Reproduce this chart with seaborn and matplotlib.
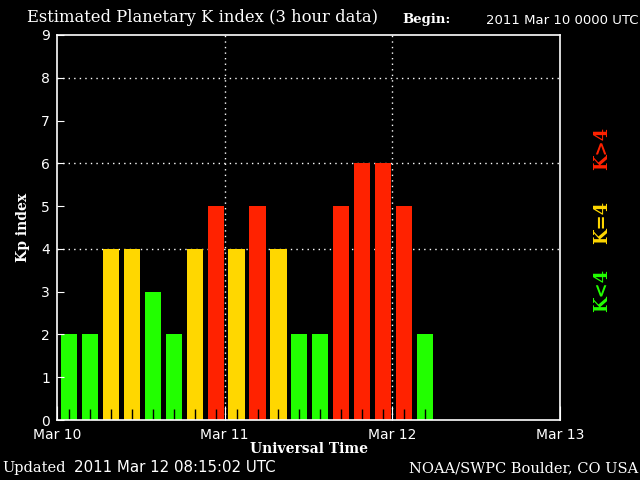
import seaborn as sns
from matplotlib import pyplot as plt
import numpy as np
import pandas as pd

# 3-hour Kp values starting 2011 Mar 10 0000 UTC
kp = [2, 2, 4, 4, 3, 2, 4, 5,
      4, 5, 4, 2, 2, 5, 6, 6,
      5, 2]
day_labels = ['Mar 10', 'Mar 11', 'Mar 12', 'Mar 13']

hours = np.arange(len(kp)) * 3 + 1.7
level = ['lo' if k < 4 else ('eq' if k == 4 else 'hi') for k in kp]
data = pd.DataFrame({'hour': hours, 'kp': kp, 'level': level})
colors = {'lo': '#22ff00', 'eq': '#ffd700', 'hi': '#ff2200'}

sns.set_style('dark')
plt.rcParams['font.family'] = ['DejaVu Sans']

fig = plt.figure(figsize=(6.4, 4.8), dpi=100, facecolor='black')
ax = fig.add_axes([57/640, 1-420/480, 503/640, 385/480])
ax.set_facecolor('black')

sns.barplot(data=data, x='hour', y='kp', hue='level', palette=colors,
            native_scale=True, dodge=False, width=0.77, legend=False,
            saturation=1, ax=ax, linewidth=0, edgecolor='none')

ax.set_xlim(0, 72)
ax.set_ylim(0, 9)
for s in ax.spines.values():
    s.set_color('white')
    s.set_linewidth(1.2)
    s.set_zorder(4)

for y in [4, 6, 8]:
    ax.axhline(y, color='white', lw=1, ls=(0, (1, 3)), zorder=0.5)
for x in [24, 48]:
    ax.axvline(x, color='white', lw=1, ls=(0, (1, 3)), zorder=0.5)

ax.set_yticks(range(10))
ax.set_yticklabels([str(i) for i in range(10)])
ax.set_xticks([0, 24, 48, 72])
ax.set_xticklabels(day_labels)
ax.set_xticks(hours, minor=True)
ax.tick_params(axis='y', left=True, direction='in', length=5, color='white', labelcolor='white', labelsize=10, pad=5)
ax.tick_params(axis='x', which='major', bottom=True, direction='in', length=10, color='white', labelcolor='white', labelsize=10, pad=6)
ax.tick_params(axis='x', which='minor', bottom=True, direction='in', length=8, color='black', width=1)
ax.set_axisbelow(False)

ax.set_xlabel('Universal Time', color='white', family='DejaVu Serif', fontweight='bold', fontsize=10, labelpad=0)
ax.set_ylabel('Kp index', color='white', family='DejaVu Serif', fontweight='bold', fontsize=10, labelpad=8)

fig.text(27/640, 1-18/480, 'Estimated Planetary K index (3 hour data)', color='white',
         family='DejaVu Serif', fontsize=11.8, va='center', ha='left')
fig.text(402/640, 1-20/480, 'Begin:', color='white', family='DejaVu Serif',
         fontweight='bold', fontsize=9.5, va='center', ha='left')
fig.text(638/640, 1-20/480, '2011 Mar 10 0000 UTC', color='white', fontsize=9.5,
         va='center', ha='right')

fig.text(2/640, 1-468/480, 'Updated', color='white', family='DejaVu Serif', fontsize=10.5, va='center', ha='left')
fig.text(74/640, 1-468/480, '2011 Mar 12 08:15:02 UTC', color='white', fontsize=10.8, va='center', ha='left')
fig.text(638/640, 1-468/480, 'NOAA/SWPC Boulder, CO USA', color='white', family='DejaVu Serif',
         fontsize=10.5, va='center', ha='right')

for txt, yc, c in [('K<4', 290, '#22ff00'), ('K=4', 222, '#ffd700'), ('K>4', 148, '#ff2200')]:
    fig.text(602/640, 1-yc/480, txt, color=c, family='DejaVu Serif', fontsize=13,
             fontweight='bold', rotation=90, va='center', ha='center')

fig.savefig('out.png', dpi=100, facecolor='black')
